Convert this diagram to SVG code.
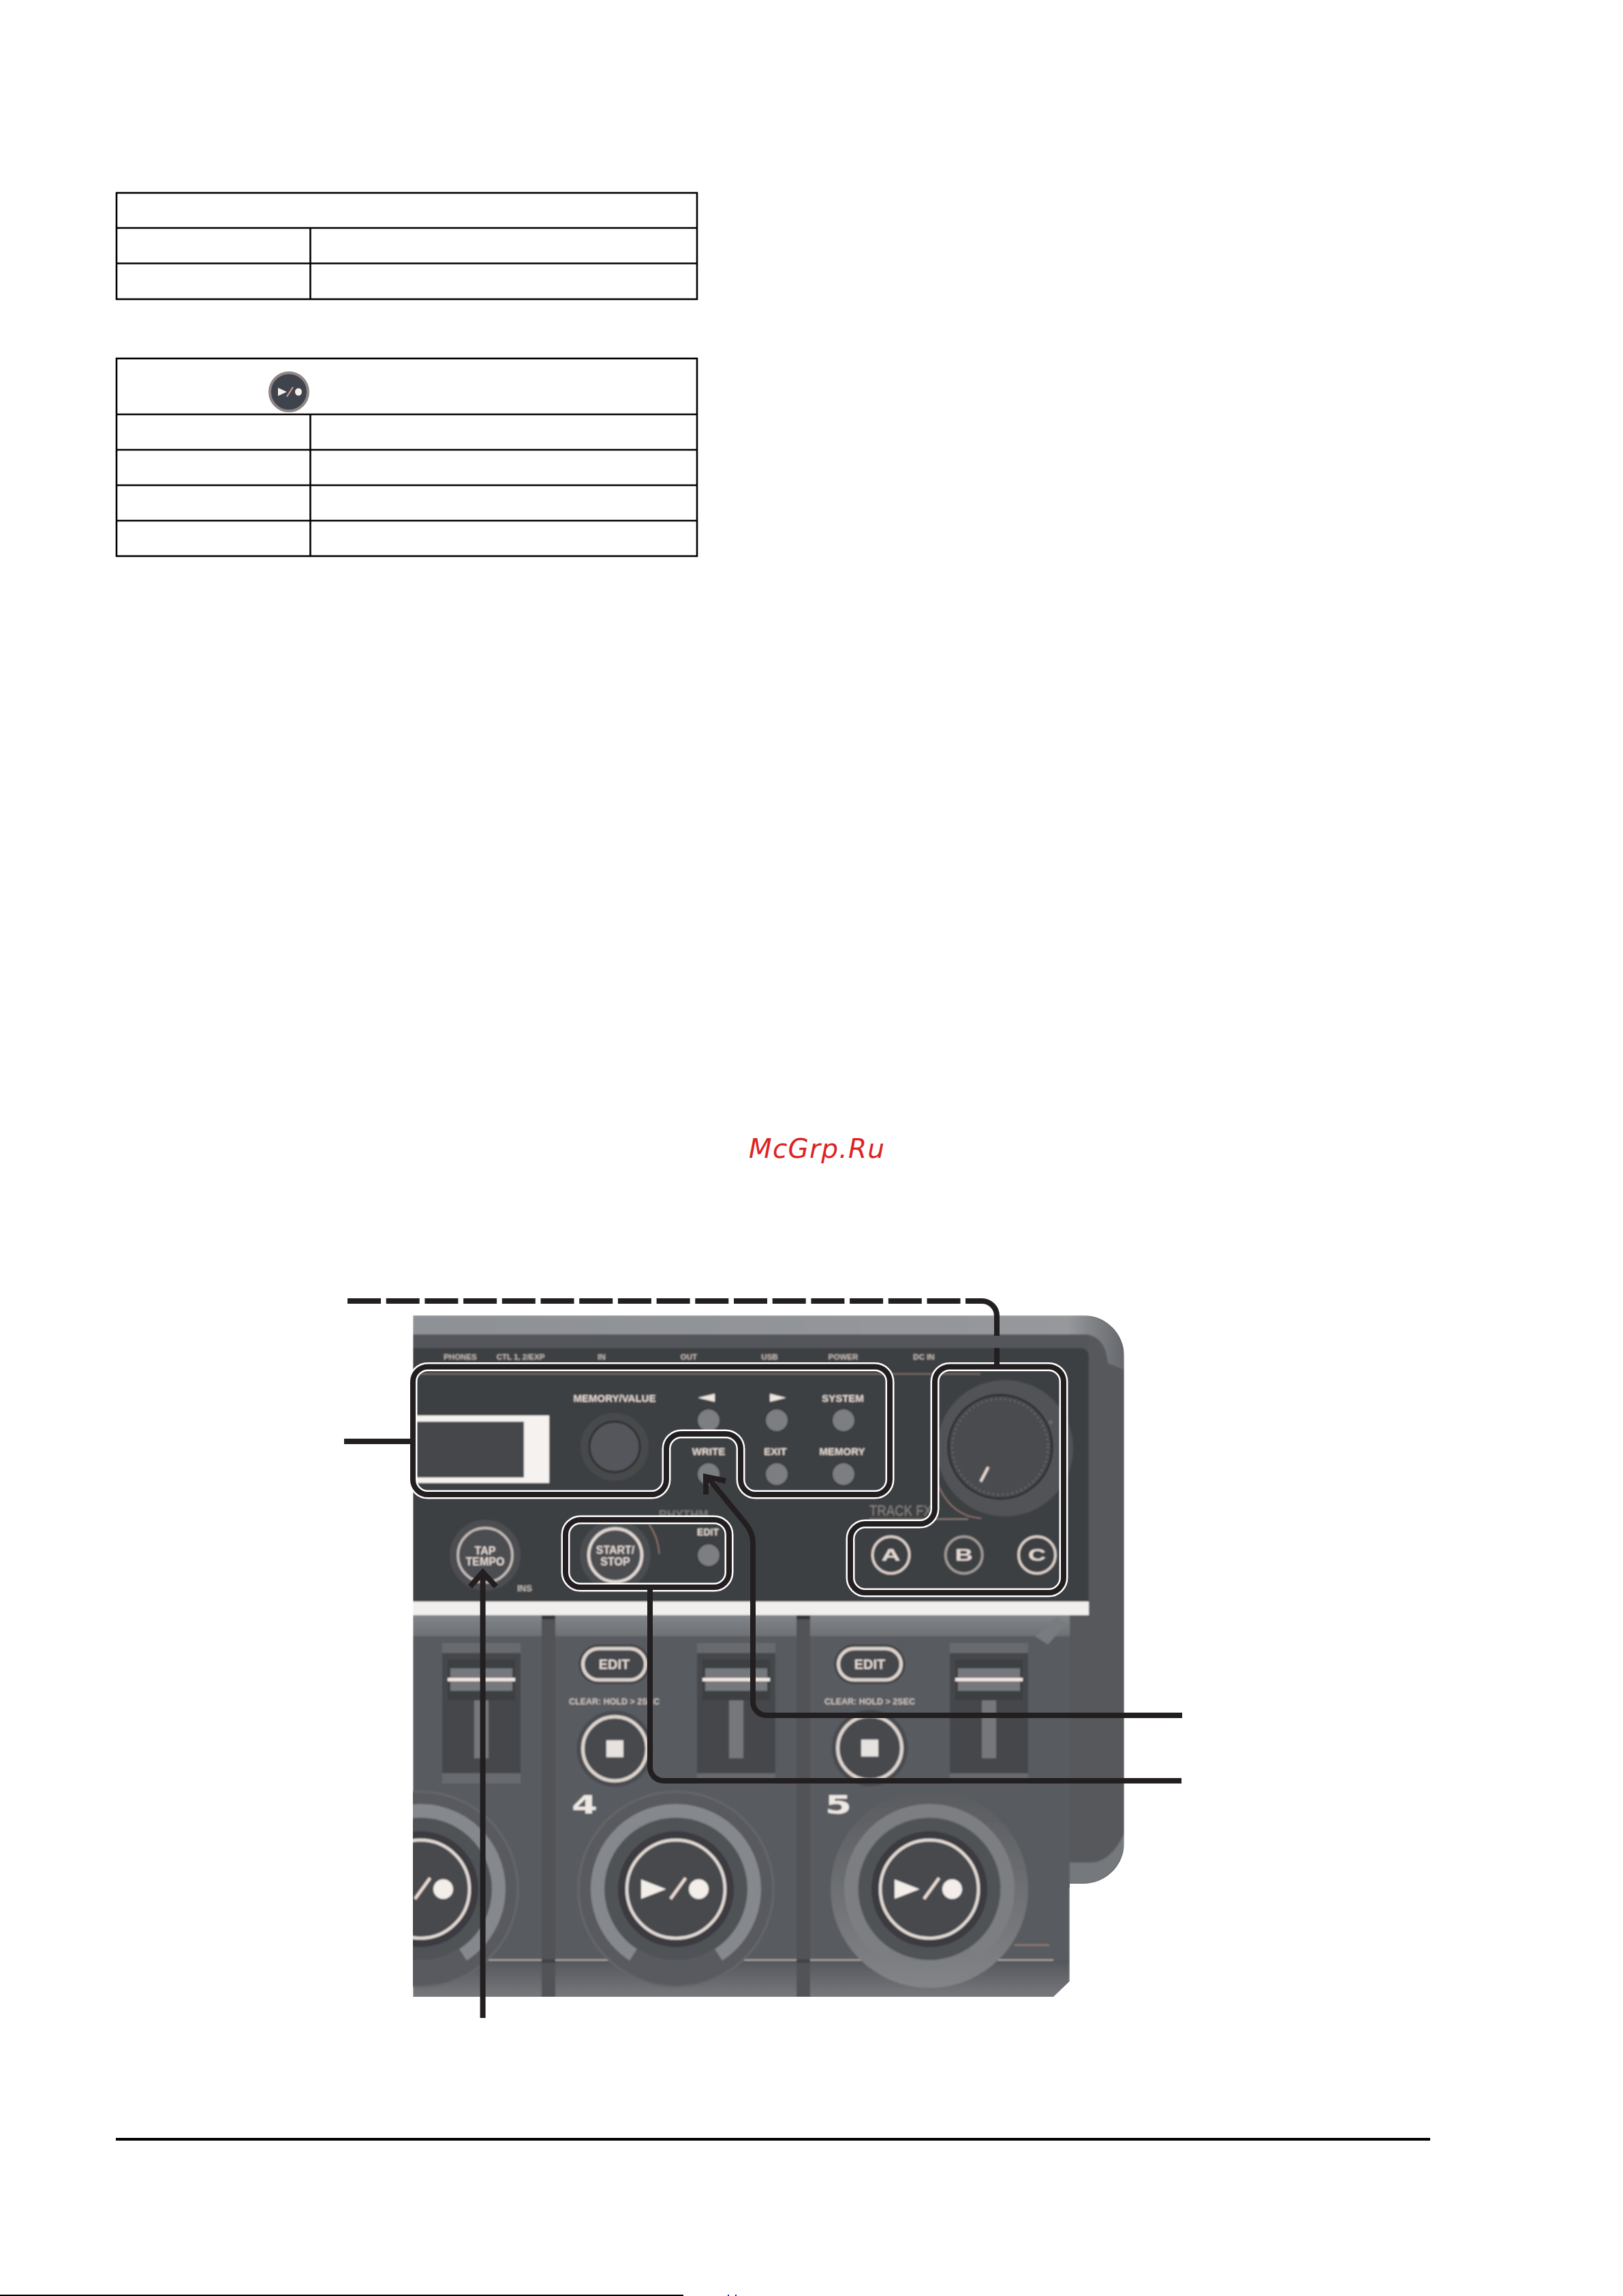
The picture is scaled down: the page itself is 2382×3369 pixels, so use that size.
<svg xmlns="http://www.w3.org/2000/svg" xmlns:xlink="http://www.w3.org/1999/xlink" width="2382" height="3369" viewBox="0 0 2382 3369">
<style>
.tb{fill:none;stroke:#000;stroke-width:2.6}
.lb{font-family:"Liberation Sans",Arial,sans-serif;font-weight:700;fill:#e6dbd5;text-anchor:middle}
.sm{font-size:11.5px;fill:#c4bbb6}
.md{font-size:15px}
.halo{fill:none;stroke:#fff;stroke-width:13}
.blk{fill:none;stroke:#231f20;stroke-width:8}
.sb{fill:#7b7e81;stroke:#36373a;stroke-width:2}
.ring{fill:none;stroke:#e3dad5;stroke-width:4.5}
</style>
<defs>
<linearGradient id="gTop" x1="0" y1="0" x2="1" y2="0"><stop offset="0" stop-color="#8e9195"/><stop offset="0.92" stop-color="#96989b"/><stop offset="1" stop-color="#65686c"/></linearGradient>
<linearGradient id="gBand" x1="0" y1="0" x2="0" y2="1"><stop offset="0" stop-color="#828589"/><stop offset="1" stop-color="#6d7074"/></linearGradient>
<linearGradient id="gLow" x1="0" y1="0" x2="0" y2="1"><stop offset="0" stop-color="#55575c"/><stop offset="1" stop-color="#75787c"/></linearGradient>
<linearGradient id="gK5" x1="0" y1="0" x2="0" y2="1"><stop offset="0" stop-color="#595b5f"/><stop offset="1" stop-color="#828487"/></linearGradient>
<filter id="soft" x="0" y="0" width="1" height="1"><feGaussianBlur stdDeviation="0.9"/></filter>
<clipPath id="dev"><path d="M606,1930H1590A60,60 0 0 1 1650,1990V2705A60,60 0 0 1 1590,2764H1570V2907L1546,2930H606Z"/></clipPath>
<g id="fader">
<rect x="0" y="0" width="115" height="14" fill="#686a6e"/>
<rect x="0" y="15" width="115" height="176" fill="#45474b"/>
<rect x="8" y="24" width="99" height="60" fill="#3d3f43"/>
<rect x="12" y="37" width="91" height="33" fill="#75787c"/>
<rect x="8" y="51" width="99" height="5" fill="#f4e6e0"/>
<rect x="47" y="84" width="21" height="85" fill="#74777a"/>
<rect x="0" y="191" width="115" height="15" fill="#686a6e"/>
</g>
<g id="play">
<circle r="85" fill="#3a3b3f"/>
<circle r="72" fill="#47484d" stroke="#e3dad5" stroke-width="4.5"/>
<path d="M-51,-14.3L-14.3,0L-51,14.3Z" fill="#f4eeea"/>
<path d="M14.3,-16.3L-8,14.3" stroke="#ecdcd4" stroke-width="4.5"/>
<circle cx="33.5" r="14.5" fill="#f4eeea"/>
</g>
<g id="knob">
<circle r="143" fill="#585a5f" stroke="#65676b" stroke-width="3"/>
<circle r="104" fill="#505256"/>
<path d="M-62.6,96.4A115,115 0 1 1 62.6,96.4" fill="none" stroke="#85888c" stroke-width="20"/>
<use xlink:href="#play" href="#play"/>
</g>
<g id="stop">
<circle r="56" fill="#4a4c50"/>
<circle r="47" fill="#47494d" stroke="#ddd4cf" stroke-width="5"/>
<rect x="-12.5" y="-12.5" width="25" height="25" fill="#e6e2df"/>
</g>
<g id="editpill">
<rect x="-52" y="-29" width="104" height="58" rx="29" fill="#3f4145"/>
<rect x="-46" y="-23" width="92" height="46" rx="23" fill="#45474b" stroke="#ddd4cf" stroke-width="5"/>
<text y="7" class="lb" font-size="20" style="font-size:20px">EDIT</text>
</g>
</defs>
<rect width="2382" height="3369" fill="#fff"/>

<g id="table-1">
<rect class="tb" x="171" y="283" width="852" height="156"/>
<path class="tb" d="M171,334.5H1023M171,386.5H1023M455.5,334.5V439"/>
</g>

<g id="table-2">
<rect class="tb" x="171" y="526" width="852" height="290"/>
<path class="tb" d="M171,608H1023M171,660H1023M171,712H1023M171,764H1023M455.5,608V816"/>
<g id="icon-play-record">
<circle cx="424" cy="575" r="28" fill="#3f444c" stroke="#8f8585" stroke-width="4"/>
<path d="M408,569L421,575L408,581Z" fill="#f4eeea"/>
<path d="M430,568L421,582" stroke="#d99f92" stroke-width="2"/>
<ellipse cx="438" cy="575" rx="5" ry="5.5" fill="#f4eeea"/>
</g>
</g>

<text id="watermark" x="1099" y="1699" font-family="DejaVu Sans, sans-serif" font-style="oblique" font-size="39" fill="#dd2222" textLength="199">McGrp.Ru</text>

<g id="device" clip-path="url(#dev)">
<g filter="url(#soft)">
<rect x="606" y="1930" width="1044" height="840" fill="#56585c"/>
<path d="M606,1930H1590A60,60 0 0 1 1650,1990V2010L1626,2000Q1622,1958 1590,1958H606Z" fill="url(#gTop)"/>
<rect x="606" y="1958" width="992" height="20" fill="#55575b"/>
<path d="M606,1978H1585Q1598,1978 1598,1992V2350H606Z" fill="#3e3f43"/>
<rect x="606" y="2015" width="833" height="2" fill="#7d6c67"/>
<rect x="606" y="2350" width="992" height="20" fill="#f0efed"/>
<rect x="606" y="2370" width="964" height="31" fill="url(#gBand)"/>
<rect x="606" y="2401" width="964" height="530" fill="#595b60"/>
<rect x="606" y="2876" width="964" height="54" fill="url(#gLow)"/>
<rect x="606" y="2875" width="940" height="2" fill="#b4aaa6"/>
<rect x="1489" y="2853" width="51" height="2" fill="#9a7e76"/>
<path d="M1570,2733H1600Q1630,2733 1650,2690V2705A60,60 0 0 1 1590,2764H1570Z" fill="#75787c"/>
<path d="M1552,2372L1564,2384L1538,2413L1519,2401Z" fill="#777b7f"/>
<rect x="795" y="2370" width="20" height="560" fill="#515357"/>
<rect x="1169" y="2370" width="20" height="560" fill="#515357"/>
<rect x="795" y="2370" width="20" height="6" fill="#333437"/>
<rect x="1169" y="2370" width="20" height="6" fill="#333437"/>
<rect x="795" y="2875" width="20" height="5" fill="#3f4144"/>
<rect x="1169" y="2875" width="20" height="5" fill="#3f4144"/>

<g id="jack-labels">
<text class="lb sm" x="675.5" y="1995">PHONES</text>
<text class="lb sm" x="764" y="1995">CTL 1, 2/EXP</text>
<text class="lb sm" x="883" y="1995">IN</text>
<text class="lb sm" x="1011" y="1995">OUT</text>
<text class="lb sm" x="1129.5" y="1995">USB</text>
<text class="lb sm" x="1237.5" y="1995">POWER</text>
<text class="lb sm" x="1356" y="1995">DC IN</text>
</g>

<g id="display">
<rect x="606" y="2077" width="200" height="99" fill="#f6f2ef"/>
<rect x="606" y="2086" width="163" height="82" fill="#44474b"/>
</g>

<g id="memory-value">
<text class="lb md" x="902" y="2057">MEMORY/VALUE</text>
<circle cx="902" cy="2123" r="50" fill="#47484c"/>
<circle cx="902" cy="2123" r="37" fill="#55575b" stroke="#2e2f32" stroke-width="3"/>
</g>

<g id="menu-buttons">
<path d="M1024,2051L1049,2045V2057Z" fill="#f0e6e0"/>
<path d="M1130,2045L1154,2051L1130,2057Z" fill="#f0e6e0"/>
<text class="lb md" x="1237" y="2057">SYSTEM</text>
<text class="lb md" x="1040" y="2135">WRITE</text>
<text class="lb md" x="1138" y="2135">EXIT</text>
<text class="lb md" x="1236" y="2135">MEMORY</text>
<circle class="sb" cx="1040" cy="2084" r="17"/>
<circle class="sb" cx="1140" cy="2084" r="17"/>
<circle class="sb" cx="1238" cy="2084" r="17"/>
<circle class="sb" cx="1040" cy="2163" r="17"/>
<circle class="sb" cx="1140" cy="2163" r="17"/>
<circle class="sb" cx="1238" cy="2163" r="17"/>
</g>

<g id="tap-tempo">
<circle cx="712" cy="2282" r="52" fill="#4b4d51"/>
<circle class="ring" cx="712" cy="2282" r="40" style="stroke:#c9beb9;stroke-width:3.5" fill="none"/>
<text class="lb" x="712" y="2281" font-size="16" style="font-size:16px">TAP</text>
<text class="lb" x="712" y="2297" font-size="16" style="font-size:16px">TEMPO</text>
<text class="lb" x="770" y="2335" style="font-size:13px;fill:#c4bbb6">INS</text>
</g>

<g id="rhythm">
<text class="lb" x="1003" y="2228" style="font-size:17px;fill:#77787c">RHYTHM</text>
<circle cx="903" cy="2282" r="52" fill="#4b4d51"/>
<circle class="ring" cx="903" cy="2282" r="39"/>
<path d="M953,2237Q966,2256 967.5,2280" fill="none" stroke="#a08078" stroke-width="1.5"/>
<text class="lb" x="903" y="2280" style="font-size:16px">START/</text>
<text class="lb" x="903" y="2297" style="font-size:16px">STOP</text>
<text class="lb" x="1039" y="2253" style="font-size:14px">EDIT</text>
<circle class="sb" cx="1040" cy="2282" r="17"/>
</g>

<g id="track-fx">
<circle cx="1475" cy="2125" r="100" fill="#515357"/>
<path d="M1375,2175Q1395,2225 1440,2228" fill="none" stroke="#a08078" stroke-width="1.5"/>
<circle cx="1468" cy="2123" r="76" fill="#4a4c50" stroke="#2a2b2e" stroke-width="3"/>
<circle cx="1468" cy="2123" r="70" fill="none" stroke="#6e7074" stroke-width="2.5" stroke-dasharray="2 5"/>
<path d="M1450.4,2152.7L1439.3,2174" stroke="#ead9d2" stroke-width="4"/>
<circle cx="1542" cy="2087" r="3" fill="#66686c"/>
<text x="1276" y="2224" font-family="Liberation Sans, Arial, sans-serif" font-size="22" fill="#8a8683" textLength="92" lengthAdjust="spacingAndGlyphs">TRACK FX</text>
<path d="M1276,2229H1421" stroke="#8c7a74" stroke-width="2"/>
<g fill="none" stroke="#e3d6cf" stroke-width="3.5">
<circle cx="1307.6" cy="2281.7" r="27"/>
<circle cx="1414.7" cy="2281.7" r="27" style="stroke:#a49d9a"/>
<circle cx="1522" cy="2281.7" r="27"/>
</g>
<text class="lb" x="1307.6" y="2290" style="font-size:24px" textLength="28" lengthAdjust="spacingAndGlyphs">A</text>
<text class="lb" x="1414.7" y="2290" style="font-size:24px" textLength="26" lengthAdjust="spacingAndGlyphs">B</text>
<text class="lb" x="1522" y="2290" style="font-size:24px" textLength="26" lengthAdjust="spacingAndGlyphs">C</text>
</g>

<g id="faders">
<use xlink:href="#fader" href="#fader" x="649" y="2411"/>
<use xlink:href="#fader" href="#fader" x="1023" y="2411"/>
<use xlink:href="#fader" href="#fader" x="1394" y="2411"/>
</g>

<g id="track-4-controls">
<use xlink:href="#editpill" href="#editpill" x="901.5" y="2442"/>
<text class="lb" x="901.5" y="2501" style="font-size:12px;fill:#cfc5c0" textLength="133" lengthAdjust="spacingAndGlyphs">CLEAR: HOLD &gt; 2SEC</text>
<use xlink:href="#stop" href="#stop" x="902.4" y="2566"/>
<text class="lb" x="858" y="2661" style="font-family:'DejaVu Sans',sans-serif;font-size:37px;fill:#eee8e4" textLength="38" lengthAdjust="spacingAndGlyphs">4</text>
</g>
<g id="track-5-controls">
<use xlink:href="#editpill" href="#editpill" x="1276.5" y="2442"/>
<text class="lb" x="1276.5" y="2501" style="font-size:12px;fill:#cfc5c0" textLength="133" lengthAdjust="spacingAndGlyphs">CLEAR: HOLD &gt; 2SEC</text>
<use xlink:href="#stop" href="#stop" x="1276.5" y="2565"/>
<text class="lb" x="1230.5" y="2661" style="font-family:'DejaVu Sans',sans-serif;font-size:37px;fill:#eee8e4" textLength="39" lengthAdjust="spacingAndGlyphs">5</text>
</g>

<g id="knob-3"><use xlink:href="#knob" href="#knob" x="617" y="2772"/></g>
<g id="knob-4"><use xlink:href="#knob" href="#knob" x="992" y="2772"/></g>
<g id="knob-5">
<circle cx="1364" cy="2772" r="145" fill="url(#gK5)"/>
<circle cx="1364" cy="2772" r="104" fill="#505256"/>
<path d="M1301.4,2868.4A115,115 0 1 1 1426.6,2868.4" fill="none" stroke="#7b7e82" stroke-width="20"/>
<use xlink:href="#play" href="#play" x="1364" y="2772"/>
</g>
</g>
</g>

<g id="connectors">
<path class="halo" d="M628,2005.5H1284A22,22 0 0 1 1306,2027.5V2171A22,22 0 0 1 1284,2193H1109A22,22 0 0 1 1087,2171V2126A22,22 0 0 0 1065,2104H1000A22,22 0 0 0 978,2126V2171A22,22 0 0 1 956,2193H628A22,22 0 0 1 606,2171V2027.5A22,22 0 0 1 628,2005.5Z"/>
<path class="blk" d="M628,2005.5H1284A22,22 0 0 1 1306,2027.5V2171A22,22 0 0 1 1284,2193H1109A22,22 0 0 1 1087,2171V2126A22,22 0 0 0 1065,2104H1000A22,22 0 0 0 978,2126V2171A22,22 0 0 1 956,2193H628A22,22 0 0 1 606,2171V2027.5A22,22 0 0 1 628,2005.5Z"/>
<path class="halo" d="M1394,2005.5H1539A22,22 0 0 1 1561,2027.5V2315A22,22 0 0 1 1539,2337H1270A22,22 0 0 1 1248,2315V2258A22,22 0 0 1 1270,2236H1350A22,22 0 0 0 1372,2214V2027.5A22,22 0 0 1 1394,2005.5Z"/>
<path class="blk" d="M1394,2005.5H1539A22,22 0 0 1 1561,2027.5V2315A22,22 0 0 1 1539,2337H1270A22,22 0 0 1 1248,2315V2258A22,22 0 0 1 1270,2236H1350A22,22 0 0 0 1372,2214V2027.5A22,22 0 0 1 1394,2005.5Z"/>
<rect class="halo" x="830" y="2230" width="240" height="99" rx="22"/>
<rect class="blk" x="830" y="2230" width="240" height="99" rx="22"/>
<path class="blk" d="M505,2115H606"/>
<path class="blk" d="M510,1909H1417" stroke-dasharray="49 7.7"/>
<path class="blk" d="M1417,1909H1441A22,22 0 0 1 1463,1931V1960"/>
<path class="blk" d="M1463,1978V2005"/>
<path class="blk" d="M954,2329V2593A20,20 0 0 0 974,2613H1734"/>
<path class="blk" d="M1735,2517H1125A20,20 0 0 1 1105,2497V2263Q1105,2248 1092,2233L1038,2167"/>
<path class="blk" d="M1036,2193V2167L1065,2173"/>
<path class="blk" d="M708.6,2961V2310"/>
<path class="blk" d="M690,2328L708.6,2307L728,2328"/>
</g>

<g id="page-rules">
<rect x="170" y="3137" width="1929" height="4" fill="#000"/>
<rect x="0" y="3367" width="1003" height="2" fill="#000"/>
<rect x="1068" y="3367" width="2" height="2" fill="#1a1a9a"/>
<rect x="1079" y="3367" width="2" height="2" fill="#1a1a9a"/>
</g>
</svg>
